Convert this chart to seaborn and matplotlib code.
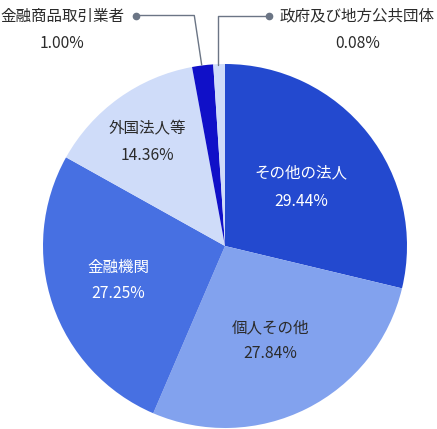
import matplotlib.pyplot as plt
import seaborn as sns

# data
categories = ["その他の法人", "個人その他", "金融機関", "外国法人等",
              "金融商品取引業者", "政府及び地方公共団体"]
percent_labels = ["29.44%", "27.84%", "27.25%", "14.36%", "1.00%", "0.08%"]
# slice sizes as drawn in the picture (small slices have a minimum size)
drawn_shares = [28.74, 27.71, 26.65, 14.0, 1.87, 1.03]
colors = ["#2349cf", "#82a2ee", "#4770e2", "#cfdcf9", "#1010c8", "#cfdcf9"]

sns.set_theme(style="white")
plt.rcParams["font.family"] = ["Noto Sans CJK JP", "DejaVu Sans"]

W, H = 437, 429
fig = plt.figure(figsize=(W / 100, H / 100), dpi=100)
ax = fig.add_axes([0, 0, 1, 1])

cx, cy, r = 225, H - 246, 182
ax.pie(drawn_shares, colors=colors, startangle=90, counterclock=False,
       center=(cx, cy), radius=r, wedgeprops=dict(linewidth=0))
ax.set_xlim(0, W)
ax.set_ylim(0, H)
ax.set_aspect("equal")
ax.axis("off")

name_fs, pct_fs = 11.2, 11.3
dark = "#2b2b2b"

# inside labels (pixel positions, y from top)
inside = [
    (0, 301, 173, 202, "white"),
    (1, 270, 328, 354, dark),
    (2, 118, 267, 293, "white"),
    (3, 147, 129, 156, dark),
]
for i, x, y1, y2, c in inside:
    ax.text(x, H - y1, categories[i], ha="center", va="center",
            fontsize=name_fs, color=c)
    ax.text(x, H - y2, percent_labels[i], ha="center", va="center",
            fontsize=pct_fs, color=c)

# outside labels with leader lines
line_c = "#6b7585"
ax.plot([136, 194.3, 201.7], [H - 15.5, H - 15.5, H - 65], color=line_c, lw=1)
ax.plot([136], [H - 15.5], "o", color=line_c, ms=4.5)
ax.plot([217.7, 217.7, 269.3], [H - 65, H - 15.5, H - 15.5], color=line_c, lw=1)
ax.plot([269.3], [H - 15.5], "o", color=line_c, ms=4.5)

ax.text(62, H - 16, categories[4], ha="center", va="center",
        fontsize=name_fs, color=dark)
ax.text(62, H - 43, percent_labels[4], ha="center", va="center",
        fontsize=pct_fs, color=dark)
ax.text(357, H - 16, categories[5], ha="center", va="center",
        fontsize=name_fs, color=dark)
ax.text(358, H - 43, percent_labels[5], ha="center", va="center",
        fontsize=pct_fs, color=dark)

fig.savefig("out.png", dpi=100)
plt.close(fig)
